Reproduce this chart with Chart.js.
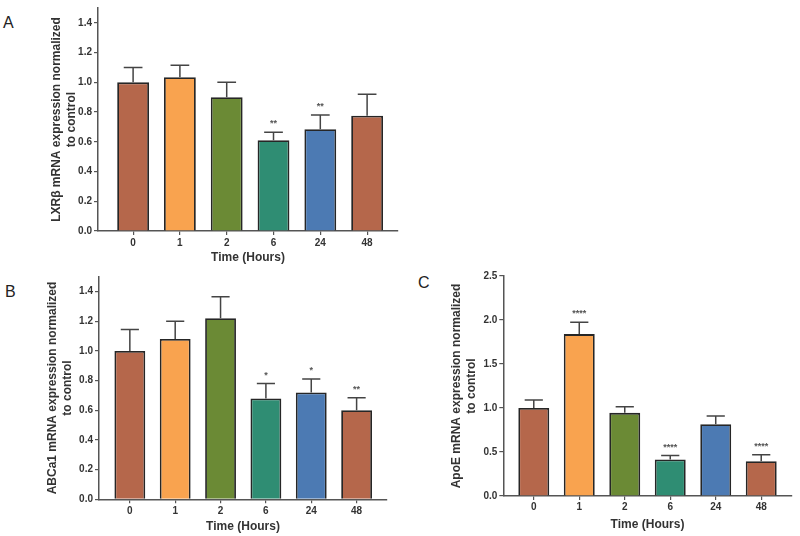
<!DOCTYPE html>
<html>
<head>
<meta charset="utf-8">
<script src="https://cdn.jsdelivr.net/npm/chart.js@4.4.1/dist/chart.umd.min.js"></script>
<style>
  body { margin: 0; background: #fff; width: 800px; height: 536px; position: relative; overflow: hidden; font-family: "Liberation Sans", Arial, sans-serif; }
  canvas { position: absolute; }
  .tag { position: absolute; font-size: 16px; line-height: 16px; color: #222; }
</style>
</head>
<body>
<div class="tag" style="left:3px;top:15px">A</div>
<div class="tag" style="left:5px;top:284px">B</div>
<div class="tag" style="left:418px;top:275px">C</div>
<canvas id="chartA" width="400" height="268" style="left:0;top:0"></canvas>
<canvas id="chartB" width="400" height="268" style="left:0;top:268px"></canvas>
<canvas id="chartC" width="400" height="268" style="left:400px;top:268px"></canvas>
<script>
//---------------data--------------------------
const times = ["0", "1", "2", "6", "24", "48"];
const barColors = ["#b5674b", "#f9a34f", "#6b8a35", "#2f8d73", "#4c7ab3", "#b5674b"];

const lxrMean = [1.0, 1.035, 0.9, 0.61, 0.685, 0.775];
const lxrSem = [0.1, 0.08, 0.1, 0.055, 0.095, 0.145];
const lxrStars = ["", "", "", "**", "**", ""];

const abcMean = [1.0, 1.08, 1.22, 0.68, 0.72, 0.6];
const abcSem = [0.145, 0.12, 0.145, 0.1, 0.09, 0.085];
const abcStars = ["", "", "", "*", "*", "**"];

const apoMean = [1.0, 1.84, 0.945, 0.415, 0.815, 0.395];
const apoSem = [0.09, 0.135, 0.07, 0.045, 0.095, 0.075];
const apoStars = ["", "****", "", "****", "", "****"];

const ticks14 = [0, 0.2, 0.4, 0.6, 0.8, 1.0, 1.2, 1.4];
const ticks25 = [0, 0.5, 1.0, 1.5, 2.0, 2.5];
//---------------data--------------------------

const FONT = '"Liberation Sans", Arial, sans-serif';
const axisColor = "#555";

function errorBarPlugin(means, sem, stars) {
  return {
    id: "errorBars",
    afterDatasetsDraw(chart) {
      const ctx = chart.ctx;
      const x = chart.scales.x;
      const y = chart.scales.y;
      const half = (x.getPixelForValue(1) - x.getPixelForValue(0)) * 0.2;
      ctx.save();
      ctx.strokeStyle = "#444";
      ctx.lineWidth = 1.5;
      ctx.fillStyle = "#555";
      ctx.font = "bold 9px " + FONT;
      ctx.textAlign = "center";
      ctx.textBaseline = "alphabetic";
      means.forEach((m, i) => {
        const px = x.getPixelForValue(i);
        const y0 = y.getPixelForValue(m);
        const y1 = y.getPixelForValue(m + sem[i]);
        ctx.beginPath();
        ctx.moveTo(px, y0);
        ctx.lineTo(px, y1);
        ctx.moveTo(px - half, y1);
        ctx.lineTo(px + half, y1);
        ctx.stroke();
        if (stars[i]) ctx.fillText(stars[i], px, y1 - 6);
      });
      ctx.restore();
    },
  };
}

function makePanel(id, yTitle, means, sem, stars, yMax, yTicks, g) {
  new Chart(document.getElementById(id), {
    type: "bar",
    data: {
      datasets: [
        {
          data: means.map((m, i) => ({ x: i, y: m })),
          backgroundColor: barColors,
          borderColor: "#262626",
          borderWidth: 1.8,
          categoryPercentage: 1,
          barPercentage: 0.68,
        },
      ],
    },
    options: {
      responsive: false,
      animation: false,
      events: [],
      layout: { padding: { top: g.top, right: g.right, left: 0, bottom: 0 } },
      plugins: { legend: { display: false }, tooltip: { enabled: false } },
      scales: {
        x: {
          type: "linear",
          min: g.xMin,
          max: g.xMax,
          offset: false,
          afterBuildTicks: (s) => {
            s.ticks = times.map((t, i) => ({ value: i }));
          },
          afterFit: (s) => {
            s.height = g.xHeight;
          },
          ticks: {
            callback: (v) => times[v],
            color: "#333",
            font: { family: FONT, size: 10, weight: "bold" },
            padding: g.tickPad,
            maxRotation: 0,
            autoSkip: false,
          },
          grid: { offset: false, drawOnChartArea: false, tickLength: 4, color: axisColor, lineWidth: 1.2 },
          border: { color: axisColor, width: 1.5 },
          title: {
            display: true,
            text: "Time (Hours)",
            color: "#333",
            font: { family: FONT, size: 12, weight: "bold", lineHeight: 1.2 },
            padding: { top: 0, bottom: g.titlePadB },
          },
        },
        y: {
          min: 0,
          max: yMax,
          afterBuildTicks: (s) => {
            s.ticks = yTicks.map((v) => ({ value: v }));
          },
          afterFit: (s) => {
            s.width = g.yWidth;
          },
          ticks: {
            callback: (v) => v.toFixed(1),
            color: "#333",
            font: { family: FONT, size: 10, weight: "bold" },
            padding: 2,
          },
          grid: { drawOnChartArea: false, tickLength: 4, color: axisColor, lineWidth: 1.2 },
          border: { color: axisColor, width: 1.5 },
          title: {
            display: true,
            text: yTitle,
            color: "#333",
            font: { family: FONT, size: 12, weight: "bold", lineHeight: 1.25 },
            padding: { top: g.titlePad, bottom: 0 },
          },
        },
      },
    },
    plugins: [errorBarPlugin(means, sem, stars)],
  });
}

makePanel("chartA", ["LXRβ mRNA expression normalized", "to control"], lxrMean, lxrSem, lxrStars, 1.5, ticks14, {
  top: 1.5, right: 2, xMin: -0.75, xMax: 5.66, xHeight: 37, yWidth: 98, tickPad: 2, titlePadB: 3, titlePad: 49.5,
});
makePanel("chartB", ["ABCa1 mRNA expression normalized", "to control"], abcMean, abcSem, abcStars, 1.5, ticks14, {
  top: 8.7, right: 13, xMin: -0.68, xMax: 5.67, xHeight: 36.7, yWidth: 99, tickPad: 2, titlePadB: 2.3, titlePad: 45.5,
});
makePanel("chartC", ["ApoE mRNA expression normalized", "to control"], apoMean, apoSem, apoStars, 2.5, ticks25, {
  top: 3.7, right: 8.3, xMin: -0.67, xMax: 5.67, xHeight: 40, yWidth: 103.3, tickPad: 1, titlePadB: 4.5, titlePad: 49,
});
</script>
</body>
</html>
